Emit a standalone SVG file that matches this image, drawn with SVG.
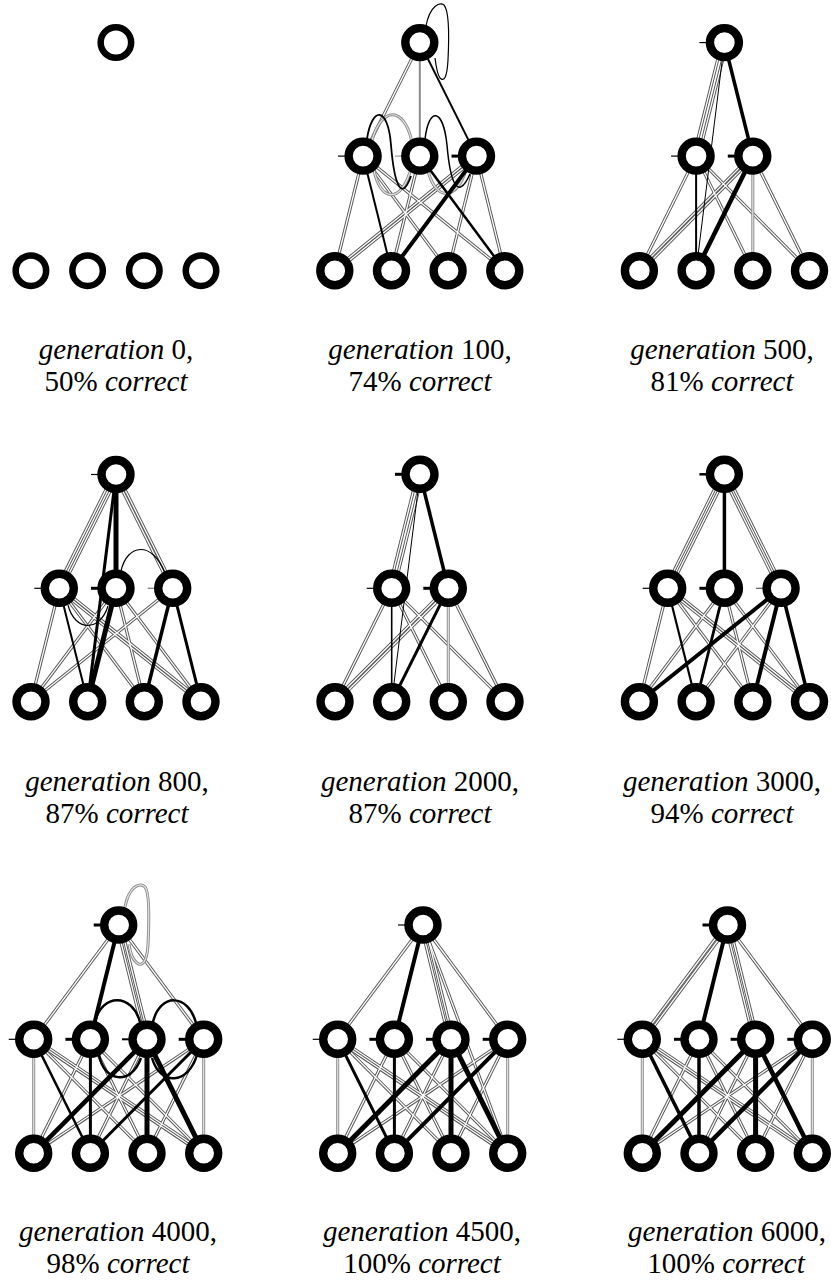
<svg xmlns="http://www.w3.org/2000/svg" xmlns:xlink="http://www.w3.org/1999/xlink" width="831" height="1283" viewBox="0 0 831 1283">
<style>
  .nd { fill:#fff; stroke:#000; stroke-width:8.4; }
  .nd0 { fill:#fff; stroke:#000; stroke-width:6.5; }
  .dblO { fill:none; stroke:#555; stroke-width:3.2; }
  .dblI { fill:none; stroke:#fff; stroke-width:1.3; }
  .paleO { fill:none; stroke:#8a8a8a; stroke-width:3; }
  .paleI { fill:none; stroke:#e2e2e2; stroke-width:1.2; }
  .pos { fill:none; stroke:#000; }
  .bias { stroke:#000; }
  .lbl { font-size:29px; fill:#000; text-anchor:middle; }
  .it { font-style:italic; }
</style>
<defs>
  <!-- negative-weight connections, stroked twice to give a hollow line -->
  <g id="neg100">
    <line x1="419.8" y1="42.6" x2="363.1" y2="156.1"/>
    <line x1="363.1" y1="156.1" x2="334.8" y2="270.7"/>
    <line x1="363.1" y1="156.1" x2="448.1" y2="270.7"/>
    <line x1="363.1" y1="156.1" x2="504.8" y2="270.7"/>
    <line x1="419.8" y1="156.1" x2="391.5" y2="270.7"/>
    <line x1="474.5" y1="156.1" x2="332.8" y2="270.7"/>
    <line x1="478.5" y1="156.1" x2="336.8" y2="270.7"/>
    <line x1="476.5" y1="156.1" x2="448.1" y2="270.7"/>
    <line x1="476.5" y1="156.1" x2="504.8" y2="270.7"/>
  </g>
  <g id="pale100">
    <path d="M 372 140 C 382 106, 404 106, 412 142"/>
    <path d="M 374 170 C 380 201, 400 204, 410 172"/>
    <path d="M 428 171 C 436 201, 456 201, 466 170"/>
  </g>
  <g id="neg500">
    <line x1="721.9" y1="42.6" x2="693.6" y2="156.1"/>
    <line x1="726.9" y1="42.6" x2="698.6" y2="156.1"/>
    <line x1="696.1" y1="156.1" x2="639.4" y2="270.7"/>
    <line x1="696.1" y1="156.1" x2="752.8" y2="270.7"/>
    <line x1="696.1" y1="156.1" x2="809.5" y2="270.7"/>
    <line x1="750.8" y1="156.1" x2="637.4" y2="270.7"/>
    <line x1="754.8" y1="156.1" x2="641.4" y2="270.7"/>
    <line x1="752.8" y1="156.1" x2="809.5" y2="270.7"/>
  </g>
  <g id="pale500">
    <line x1="752.8" y1="156.1" x2="752.8" y2="270.7"/>
  </g>
  <g id="neg800">
    <line x1="113.5" y1="474.5" x2="56.8" y2="588.3"/>
    <line x1="118.5" y1="474.5" x2="61.8" y2="588.3"/>
    <line x1="114.5" y1="474.5" x2="171.2" y2="588.3"/>
    <line x1="117.5" y1="474.5" x2="174.2" y2="588.3"/>
    <line x1="59.3" y1="588.3" x2="31" y2="701.7"/>
    <line x1="59.3" y1="588.3" x2="144.3" y2="701.7"/>
    <line x1="57.3" y1="588.3" x2="199" y2="701.7"/>
    <line x1="61.3" y1="588.3" x2="203" y2="701.7"/>
    <line x1="116" y1="588.3" x2="31" y2="701.7"/>
    <line x1="116" y1="588.3" x2="144.3" y2="701.7"/>
    <line x1="116" y1="588.3" x2="201" y2="701.7"/>
    <line x1="172.7" y1="588.3" x2="31" y2="701.7"/>
  </g>
  <g id="neg2000">
    <line x1="417.5" y1="474.3" x2="389.2" y2="588.3"/>
    <line x1="422.5" y1="474.3" x2="394.2" y2="588.3"/>
    <line x1="391.7" y1="588.3" x2="335" y2="701.7"/>
    <line x1="391.7" y1="588.3" x2="448.3" y2="701.7"/>
    <line x1="391.7" y1="588.3" x2="505" y2="701.7"/>
    <line x1="446.3" y1="588.3" x2="333" y2="701.7"/>
    <line x1="450.3" y1="588.3" x2="337" y2="701.7"/>
    <line x1="448.3" y1="588.3" x2="505" y2="701.7"/>
  </g>
  <g id="pale2000">
    <line x1="448.3" y1="588.3" x2="448.3" y2="701.7"/>
  </g>
  <g id="neg3000">
    <line x1="722" y1="474.3" x2="665.3" y2="588.3"/>
    <line x1="726.8" y1="474.3" x2="670.1" y2="588.3"/>
    <line x1="722" y1="474.3" x2="778.7" y2="588.3"/>
    <line x1="726.8" y1="474.3" x2="783.5" y2="588.3"/>
    <line x1="667.7" y1="588.3" x2="639.4" y2="701.7"/>
    <line x1="667.7" y1="588.3" x2="752.8" y2="701.7"/>
    <line x1="665.7" y1="588.3" x2="807.5" y2="701.7"/>
    <line x1="669.7" y1="588.3" x2="811.5" y2="701.7"/>
    <line x1="724.4" y1="588.3" x2="639.4" y2="701.7"/>
    <line x1="724.4" y1="588.3" x2="752.8" y2="701.7"/>
    <line x1="724.4" y1="588.3" x2="809.5" y2="701.7"/>
    <line x1="781.1" y1="588.3" x2="696.1" y2="701.7"/>
  </g>
  <g id="neg4000">
    <line x1="118.7" y1="925" x2="33.7" y2="1039.3"/>
    <line x1="116.7" y1="925" x2="145" y2="1039.3"/>
    <line x1="120.7" y1="925" x2="149" y2="1039.3"/>
    <line x1="118.7" y1="925" x2="203.7" y2="1039.3"/>
    <line x1="33.7" y1="1039.3" x2="147" y2="1153.3"/>
    <line x1="31.7" y1="1039.3" x2="201.7" y2="1153.3"/>
    <line x1="35.7" y1="1039.3" x2="205.7" y2="1153.3"/>
    <line x1="90.4" y1="1039.3" x2="33.7" y2="1153.3"/>
    <line x1="90.4" y1="1039.3" x2="147" y2="1153.3"/>
    <line x1="90.4" y1="1039.3" x2="203.7" y2="1153.3"/>
    <line x1="147" y1="1039.3" x2="90.4" y2="1153.3"/>
    <line x1="203.7" y1="1039.3" x2="33.7" y2="1153.3"/>
    <line x1="203.7" y1="1039.3" x2="147" y2="1153.3"/>
  </g>
  <g id="pale4000">
    <line x1="33.7" y1="1039.3" x2="33.7" y2="1153.3"/>
    <line x1="203.7" y1="1039.3" x2="203.7" y2="1153.3"/>
    <path d="M 125 907 C 129 886, 140 882, 145 887 C 150 893, 149 925, 148 945 C 147 962, 142 967, 137 963 C 132 959, 130 952, 129 944"/>
  </g>
  <g id="neg4500">
    <line x1="423" y1="925" x2="337.7" y2="1039.3"/>
    <line x1="421" y1="925" x2="449" y2="1039.3"/>
    <line x1="425" y1="925" x2="453" y2="1039.3"/>
    <line x1="423" y1="925" x2="507.7" y2="1039.3"/>
    <line x1="423" y1="925" x2="507.7" y2="1153.3"/>
    <line x1="337.7" y1="1039.3" x2="451" y2="1153.3"/>
    <line x1="335.7" y1="1039.3" x2="505.7" y2="1153.3"/>
    <line x1="339.7" y1="1039.3" x2="509.7" y2="1153.3"/>
    <line x1="394.4" y1="1039.3" x2="337.7" y2="1153.3"/>
    <line x1="394.4" y1="1039.3" x2="451" y2="1153.3"/>
    <line x1="394.4" y1="1039.3" x2="507.7" y2="1153.3"/>
    <line x1="451" y1="1039.3" x2="394.4" y2="1153.3"/>
    <line x1="507.7" y1="1039.3" x2="337.7" y2="1153.3"/>
    <line x1="507.7" y1="1039.3" x2="451" y2="1153.3"/>
  </g>
  <g id="pale4500">
    <line x1="337.7" y1="1039.3" x2="337.7" y2="1153.3"/>
    <line x1="507.7" y1="1039.3" x2="507.7" y2="1153.3"/>
  </g>
  <g id="neg6000">
    <line x1="725.5" y1="925" x2="640.3" y2="1039.3"/>
    <line x1="729.5" y1="925" x2="644.3" y2="1039.3"/>
    <line x1="725.5" y1="925" x2="753.6" y2="1039.3"/>
    <line x1="729.5" y1="925" x2="757.6" y2="1039.3"/>
    <line x1="727.5" y1="925" x2="812.3" y2="1039.3"/>
    <line x1="642.3" y1="1039.3" x2="755.6" y2="1153.3"/>
    <line x1="640.3" y1="1039.3" x2="810.3" y2="1153.3"/>
    <line x1="644.3" y1="1039.3" x2="814.3" y2="1153.3"/>
    <line x1="699" y1="1039.3" x2="642.3" y2="1153.3"/>
    <line x1="699" y1="1039.3" x2="755.6" y2="1153.3"/>
    <line x1="699" y1="1039.3" x2="812.3" y2="1153.3"/>
    <line x1="755.6" y1="1039.3" x2="699" y2="1153.3"/>
    <line x1="812.3" y1="1039.3" x2="642.3" y2="1153.3"/>
    <line x1="812.3" y1="1039.3" x2="755.6" y2="1153.3"/>
  </g>
  <g id="pale6000">
    <line x1="642.3" y1="1039.3" x2="642.3" y2="1153.3"/>
    <line x1="812.3" y1="1039.3" x2="812.3" y2="1153.3"/>
  </g>
</defs>

<rect width="831" height="1283" fill="#fff"/>

<g id="connectors">
  <!-- hollow (negative) links -->
  <use xlink:href="#neg100" class="dblO"/><use xlink:href="#neg100" class="dblI"/>
  <use xlink:href="#pale100" class="paleO"/><use xlink:href="#pale100" class="paleI"/>
  <use xlink:href="#neg500" class="dblO"/><use xlink:href="#neg500" class="dblI"/>
  <use xlink:href="#pale500" class="paleO"/><use xlink:href="#pale500" class="paleI"/>
  <use xlink:href="#neg800" class="dblO"/><use xlink:href="#neg800" class="dblI"/>
  <use xlink:href="#neg2000" class="dblO"/><use xlink:href="#neg2000" class="dblI"/>
  <use xlink:href="#pale2000" class="paleO"/><use xlink:href="#pale2000" class="paleI"/>
  <use xlink:href="#neg3000" class="dblO"/><use xlink:href="#neg3000" class="dblI"/>
  <use xlink:href="#neg4000" class="dblO"/><use xlink:href="#neg4000" class="dblI"/>
  <use xlink:href="#pale4000" class="paleO"/><use xlink:href="#pale4000" class="paleI"/>
  <use xlink:href="#neg4500" class="dblO"/><use xlink:href="#neg4500" class="dblI"/>
  <use xlink:href="#pale4500" class="paleO"/><use xlink:href="#pale4500" class="paleI"/>
  <use xlink:href="#neg6000" class="dblO"/><use xlink:href="#neg6000" class="dblI"/>
  <use xlink:href="#pale6000" class="paleO"/><use xlink:href="#pale6000" class="paleI"/>

  <!-- generation 100 -->
  <g class="pos">
    <line x1="419.8" y1="42.6" x2="419.8" y2="156.1" stroke="#8a8a8a" stroke-width="2"/>
    <line x1="419.8" y1="42.6" x2="476.5" y2="156.1" stroke-width="2"/>
    <line x1="363.1" y1="156.1" x2="391.5" y2="270.7" stroke-width="2"/>
    <line x1="419.8" y1="156.1" x2="504.8" y2="270.7" stroke-width="2.5"/>
    <line x1="476.5" y1="156.1" x2="391.5" y2="270.7" stroke-width="4"/>
    <path d="M 367 139 C 372 106, 388 106, 391 145 C 394 182, 401 204, 411 176" stroke-width="1.8"/>
    <path d="M 425 139 C 429 106, 443 108, 447 145 C 450 180, 457 203, 470 174" stroke-width="1.5"/>
    <path d="M 426 26 C 430 5, 440 2, 444 5 C 450 12, 449 40, 448 60 C 447 78, 444 82, 440 78 C 437 74, 436 66, 435 58" stroke-width="1.2"/>
  </g>
  <line class="bias" x1="338" y1="156.1" x2="348" y2="156.1" stroke-width="1.2"/>
  <line x1="395" y1="156.1" x2="405" y2="156.1" stroke="#999" stroke-width="1.2"/>
  <line class="bias" x1="451.5" y1="156.1" x2="461.5" y2="156.1" stroke-width="3"/>

  <!-- generation 500 -->
  <g class="pos">
    <line x1="724.4" y1="42.6" x2="752.8" y2="156.1" stroke-width="3.5"/>
    <line x1="724.4" y1="42.6" x2="696.1" y2="270.7" stroke-width="1"/>
    <line x1="696.1" y1="156.1" x2="696.1" y2="270.7" stroke-width="2"/>
    <line x1="752.8" y1="156.1" x2="696.1" y2="270.7" stroke-width="4.5"/>
  </g>
  <line class="bias" x1="699.4" y1="42.6" x2="709.4" y2="42.6" stroke-width="1.2"/>
  <line class="bias" x1="671.1" y1="156.1" x2="681.1" y2="156.1" stroke-width="1.2"/>
  <line class="bias" x1="727.8" y1="156.1" x2="737.8" y2="156.1" stroke-width="3"/>

  <!-- generation 800 -->
  <g class="pos">
    <line x1="116" y1="474.5" x2="116" y2="588.3" stroke-width="5"/>
    <line x1="116" y1="474.5" x2="87.7" y2="701.7" stroke-width="3"/>
    <line x1="59.3" y1="588.3" x2="87.7" y2="701.7" stroke-width="2"/>
    <line x1="116" y1="588.3" x2="87.7" y2="701.7" stroke-width="5"/>
    <line x1="172.7" y1="588.3" x2="144.3" y2="701.7" stroke-width="3.5"/>
    <line x1="172.7" y1="588.3" x2="201" y2="701.7" stroke-width="3"/>
    <path d="M 121 571 C 127 544, 152 540, 165 573" stroke-width="1.2"/>
    <path d="M 68 605 C 75 632, 100 632, 108 606" stroke-width="1.2"/>
  </g>
  <line class="bias" x1="91" y1="474.5" x2="101" y2="474.5" stroke-width="1.2"/>
  <line class="bias" x1="34.3" y1="588.3" x2="44.3" y2="588.3" stroke-width="1.2"/>
  <line class="bias" x1="91" y1="588.3" x2="101" y2="588.3" stroke-width="3"/>
  <line x1="147.7" y1="588.3" x2="157.7" y2="588.3" stroke="#777" stroke-width="1.2"/>

  <!-- generation 2000 -->
  <g class="pos">
    <line x1="420" y1="474.3" x2="448.3" y2="588.3" stroke-width="3.5"/>
    <line x1="420" y1="474.3" x2="391.7" y2="701.7" stroke-width="1"/>
    <line x1="391.7" y1="588.3" x2="391.7" y2="701.7" stroke-width="1.6"/>
    <line x1="448.3" y1="588.3" x2="391.7" y2="701.7" stroke-width="3"/>
  </g>
  <line class="bias" x1="395" y1="474.3" x2="405" y2="474.3" stroke-width="3"/>
  <line class="bias" x1="366.7" y1="588.3" x2="376.7" y2="588.3" stroke-width="1.2"/>
  <line class="bias" x1="423.3" y1="588.3" x2="433.3" y2="588.3" stroke-width="3"/>

  <!-- generation 3000 -->
  <g class="pos">
    <line x1="724.4" y1="474.3" x2="724.4" y2="588.3" stroke-width="3.5"/>
    <line x1="667.7" y1="588.3" x2="696.1" y2="701.7" stroke-width="2.2"/>
    <line x1="724.4" y1="588.3" x2="696.1" y2="701.7" stroke-width="2.8"/>
    <line x1="781.1" y1="588.3" x2="639.4" y2="701.7" stroke-width="4"/>
    <line x1="781.1" y1="588.3" x2="752.8" y2="701.7" stroke-width="4"/>
    <line x1="781.1" y1="588.3" x2="809.5" y2="701.7" stroke-width="3.5"/>
  </g>
  <line class="bias" x1="699.4" y1="474.3" x2="709.4" y2="474.3" stroke-width="2.5"/>
  <line class="bias" x1="642.7" y1="588.3" x2="652.7" y2="588.3" stroke-width="1.2"/>
  <line class="bias" x1="699.4" y1="588.3" x2="709.4" y2="588.3" stroke-width="3"/>
  <line x1="756.1" y1="588.3" x2="766.1" y2="588.3" stroke="#555" stroke-width="1.2"/>

  <!-- generation 4000 -->
  <g class="pos">
    <line x1="118.7" y1="925" x2="90.4" y2="1039.3" stroke-width="4"/>
    <line x1="33.7" y1="1039.3" x2="90.4" y2="1153.3" stroke-width="2.5"/>
    <line x1="90.4" y1="1039.3" x2="90.4" y2="1153.3" stroke-width="3"/>
    <line x1="147" y1="1039.3" x2="33.7" y2="1153.3" stroke-width="4.5"/>
    <line x1="147" y1="1039.3" x2="147" y2="1153.3" stroke-width="5"/>
    <line x1="147" y1="1039.3" x2="203.7" y2="1153.3" stroke-width="5"/>
    <line x1="203.7" y1="1039.3" x2="90.4" y2="1153.3" stroke-width="3"/>
    <path d="M 95 1022 C 102 993, 132 993, 140 1022" stroke-width="2.5"/>
    <path d="M 153 1022 C 160 993, 188 993, 196 1023" stroke-width="2.5"/>
    <path d="M 99 1055 C 104 1082, 131 1086, 141 1058" stroke-width="2.5"/>
    <path d="M 152 1058 C 160 1086, 188 1085, 197 1055" stroke-width="2.5"/>
  </g>
  <line class="bias" x1="93.7" y1="925" x2="103.7" y2="925" stroke-width="3"/>
  <line class="bias" x1="8.7" y1="1039.3" x2="18.7" y2="1039.3" stroke-width="1.2"/>
  <line class="bias" x1="65.4" y1="1039.3" x2="75.4" y2="1039.3" stroke-width="3"/>
  <line class="bias" x1="122" y1="1039.3" x2="132" y2="1039.3" stroke-width="2"/>
  <line class="bias" x1="178.7" y1="1039.3" x2="188.7" y2="1039.3" stroke-width="3"/>

  <!-- generation 4500 -->
  <g class="pos">
    <line x1="423" y1="925" x2="394.4" y2="1039.3" stroke-width="4"/>
    <line x1="337.7" y1="1039.3" x2="394.4" y2="1153.3" stroke-width="3"/>
    <line x1="394.4" y1="1039.3" x2="394.4" y2="1153.3" stroke-width="3"/>
    <line x1="451" y1="1039.3" x2="337.7" y2="1153.3" stroke-width="5"/>
    <line x1="451" y1="1039.3" x2="451" y2="1153.3" stroke-width="5"/>
    <line x1="451" y1="1039.3" x2="507.7" y2="1153.3" stroke-width="5"/>
    <line x1="507.7" y1="1039.3" x2="394.4" y2="1153.3" stroke-width="4"/>
  </g>
  <line class="bias" x1="398" y1="925" x2="408" y2="925" stroke-width="1.2"/>
  <line class="bias" x1="312.7" y1="1039.3" x2="322.7" y2="1039.3" stroke-width="1.2"/>
  <line class="bias" x1="369.4" y1="1039.3" x2="379.4" y2="1039.3" stroke-width="3"/>
  <line class="bias" x1="426" y1="1039.3" x2="436" y2="1039.3" stroke-width="3"/>
  <line class="bias" x1="482.7" y1="1039.3" x2="492.7" y2="1039.3" stroke-width="3"/>

  <!-- generation 6000 -->
  <g class="pos">
    <line x1="727.5" y1="925" x2="699" y2="1039.3" stroke-width="4"/>
    <line x1="642.3" y1="1039.3" x2="699" y2="1153.3" stroke-width="3.5"/>
    <line x1="699" y1="1039.3" x2="699" y2="1153.3" stroke-width="3.5"/>
    <line x1="755.6" y1="1039.3" x2="642.3" y2="1153.3" stroke-width="5"/>
    <line x1="755.6" y1="1039.3" x2="755.6" y2="1153.3" stroke-width="5"/>
    <line x1="755.6" y1="1039.3" x2="812.3" y2="1153.3" stroke-width="4.5"/>
    <line x1="812.3" y1="1039.3" x2="699" y2="1153.3" stroke-width="4.5"/>
  </g>
  <line class="bias" x1="702.5" y1="925" x2="712.5" y2="925" stroke-width="3"/>
  <line class="bias" x1="617.3" y1="1039.3" x2="627.3" y2="1039.3" stroke-width="1.2"/>
  <line class="bias" x1="674" y1="1039.3" x2="684" y2="1039.3" stroke-width="3"/>
  <line class="bias" x1="730.6" y1="1039.3" x2="740.6" y2="1039.3" stroke-width="3"/>
  <line class="bias" x1="787.3" y1="1039.3" x2="797.3" y2="1039.3" stroke-width="3"/>
</g>

<!-- generation 0 -->
<g id="g0-out"><circle class="nd0" cx="115.9" cy="42.6" r="15.25"/></g>
<g id="g0-in1"><circle class="nd0" cx="30.9" cy="270.7" r="15.25"/></g>
<g id="g0-in2"><circle class="nd0" cx="87.6" cy="270.7" r="15.25"/></g>
<g id="g0-in3"><circle class="nd0" cx="144.3" cy="270.7" r="15.25"/></g>
<g id="g0-in4"><circle class="nd0" cx="201" cy="270.7" r="15.25"/></g>

<!-- generation 100 -->
<g id="g100-out"><circle class="nd" cx="419.8" cy="42.6" r="14.5"/></g>
<g id="g100-hid1"><circle class="nd" cx="363.1" cy="156.1" r="14.5"/></g>
<g id="g100-hid2"><circle class="nd" cx="419.8" cy="156.1" r="14.5"/></g>
<g id="g100-hid3"><circle class="nd" cx="476.5" cy="156.1" r="14.5"/></g>
<g id="g100-in1"><circle class="nd" cx="334.8" cy="270.7" r="14.5"/></g>
<g id="g100-in2"><circle class="nd" cx="391.5" cy="270.7" r="14.5"/></g>
<g id="g100-in3"><circle class="nd" cx="448.1" cy="270.7" r="14.5"/></g>
<g id="g100-in4"><circle class="nd" cx="504.8" cy="270.7" r="14.5"/></g>

<!-- generation 500 -->
<g id="g500-out"><circle class="nd" cx="724.4" cy="42.6" r="14.5"/></g>
<g id="g500-hid1"><circle class="nd" cx="696.1" cy="156.1" r="14.5"/></g>
<g id="g500-hid2"><circle class="nd" cx="752.8" cy="156.1" r="14.5"/></g>
<g id="g500-in1"><circle class="nd" cx="639.4" cy="270.7" r="14.5"/></g>
<g id="g500-in2"><circle class="nd" cx="696.1" cy="270.7" r="14.5"/></g>
<g id="g500-in3"><circle class="nd" cx="752.8" cy="270.7" r="14.5"/></g>
<g id="g500-in4"><circle class="nd" cx="809.5" cy="270.7" r="14.5"/></g>

<!-- generation 800 -->
<g id="g800-out"><circle class="nd" cx="116" cy="474.5" r="14.5"/></g>
<g id="g800-hid1"><circle class="nd" cx="59.3" cy="588.3" r="14.5"/></g>
<g id="g800-hid2"><circle class="nd" cx="116" cy="588.3" r="14.5"/></g>
<g id="g800-hid3"><circle class="nd" cx="172.7" cy="588.3" r="14.5"/></g>
<g id="g800-in1"><circle class="nd" cx="31" cy="701.7" r="14.5"/></g>
<g id="g800-in2"><circle class="nd" cx="87.7" cy="701.7" r="14.5"/></g>
<g id="g800-in3"><circle class="nd" cx="144.3" cy="701.7" r="14.5"/></g>
<g id="g800-in4"><circle class="nd" cx="201" cy="701.7" r="14.5"/></g>

<!-- generation 2000 -->
<g id="g2000-out"><circle class="nd" cx="420" cy="474.3" r="14.5"/></g>
<g id="g2000-hid1"><circle class="nd" cx="391.7" cy="588.3" r="14.5"/></g>
<g id="g2000-hid2"><circle class="nd" cx="448.3" cy="588.3" r="14.5"/></g>
<g id="g2000-in1"><circle class="nd" cx="335" cy="701.7" r="14.5"/></g>
<g id="g2000-in2"><circle class="nd" cx="391.7" cy="701.7" r="14.5"/></g>
<g id="g2000-in3"><circle class="nd" cx="448.3" cy="701.7" r="14.5"/></g>
<g id="g2000-in4"><circle class="nd" cx="505" cy="701.7" r="14.5"/></g>

<!-- generation 3000 -->
<g id="g3000-out"><circle class="nd" cx="724.4" cy="474.3" r="14.5"/></g>
<g id="g3000-hid1"><circle class="nd" cx="667.7" cy="588.3" r="14.5"/></g>
<g id="g3000-hid2"><circle class="nd" cx="724.4" cy="588.3" r="14.5"/></g>
<g id="g3000-hid3"><circle class="nd" cx="781.1" cy="588.3" r="14.5"/></g>
<g id="g3000-in1"><circle class="nd" cx="639.4" cy="701.7" r="14.5"/></g>
<g id="g3000-in2"><circle class="nd" cx="696.1" cy="701.7" r="14.5"/></g>
<g id="g3000-in3"><circle class="nd" cx="752.8" cy="701.7" r="14.5"/></g>
<g id="g3000-in4"><circle class="nd" cx="809.5" cy="701.7" r="14.5"/></g>

<!-- generation 4000 -->
<g id="g4000-out"><circle class="nd" cx="118.7" cy="925" r="14.5"/></g>
<g id="g4000-hid1"><circle class="nd" cx="33.7" cy="1039.3" r="14.5"/></g>
<g id="g4000-hid2"><circle class="nd" cx="90.4" cy="1039.3" r="14.5"/></g>
<g id="g4000-hid3"><circle class="nd" cx="147" cy="1039.3" r="14.5"/></g>
<g id="g4000-hid4"><circle class="nd" cx="203.7" cy="1039.3" r="14.5"/></g>
<g id="g4000-in1"><circle class="nd" cx="33.7" cy="1153.3" r="14.5"/></g>
<g id="g4000-in2"><circle class="nd" cx="90.4" cy="1153.3" r="14.5"/></g>
<g id="g4000-in3"><circle class="nd" cx="147" cy="1153.3" r="14.5"/></g>
<g id="g4000-in4"><circle class="nd" cx="203.7" cy="1153.3" r="14.5"/></g>

<!-- generation 4500 -->
<g id="g4500-out"><circle class="nd" cx="423" cy="925" r="14.5"/></g>
<g id="g4500-hid1"><circle class="nd" cx="337.7" cy="1039.3" r="14.5"/></g>
<g id="g4500-hid2"><circle class="nd" cx="394.4" cy="1039.3" r="14.5"/></g>
<g id="g4500-hid3"><circle class="nd" cx="451" cy="1039.3" r="14.5"/></g>
<g id="g4500-hid4"><circle class="nd" cx="507.7" cy="1039.3" r="14.5"/></g>
<g id="g4500-in1"><circle class="nd" cx="337.7" cy="1153.3" r="14.5"/></g>
<g id="g4500-in2"><circle class="nd" cx="394.4" cy="1153.3" r="14.5"/></g>
<g id="g4500-in3"><circle class="nd" cx="451" cy="1153.3" r="14.5"/></g>
<g id="g4500-in4"><circle class="nd" cx="507.7" cy="1153.3" r="14.5"/></g>

<!-- generation 6000 -->
<g id="g6000-out"><circle class="nd" cx="727.5" cy="925" r="14.5"/></g>
<g id="g6000-hid1"><circle class="nd" cx="642.3" cy="1039.3" r="14.5"/></g>
<g id="g6000-hid2"><circle class="nd" cx="699" cy="1039.3" r="14.5"/></g>
<g id="g6000-hid3"><circle class="nd" cx="755.6" cy="1039.3" r="14.5"/></g>
<g id="g6000-hid4"><circle class="nd" cx="812.3" cy="1039.3" r="14.5"/></g>
<g id="g6000-in1"><circle class="nd" cx="642.3" cy="1153.3" r="14.5"/></g>
<g id="g6000-in2"><circle class="nd" cx="699" cy="1153.3" r="14.5"/></g>
<g id="g6000-in3"><circle class="nd" cx="755.6" cy="1153.3" r="14.5"/></g>
<g id="g6000-in4"><circle class="nd" cx="812.3" cy="1153.3" r="14.5"/></g>

<!-- captions -->
<g id="captions" font-family="'Liberation Serif', 'Times New Roman', Times, 'DejaVu Serif', serif">
  <text class="lbl" x="116" y="359"><tspan class="it">generation</tspan> 0,</text>
  <text class="lbl" x="116" y="391">50% <tspan class="it">correct</tspan></text>
  <text class="lbl" x="420" y="359"><tspan class="it">generation</tspan> 100,</text>
  <text class="lbl" x="420" y="391">74% <tspan class="it">correct</tspan></text>
  <text class="lbl" x="722" y="359"><tspan class="it">generation</tspan> 500,</text>
  <text class="lbl" x="722" y="391">81% <tspan class="it">correct</tspan></text>
  <text class="lbl" x="117" y="791"><tspan class="it">generation</tspan> 800,</text>
  <text class="lbl" x="117" y="823">87% <tspan class="it">correct</tspan></text>
  <text class="lbl" x="420" y="791"><tspan class="it">generation</tspan> 2000,</text>
  <text class="lbl" x="420" y="823">87% <tspan class="it">correct</tspan></text>
  <text class="lbl" x="722" y="791"><tspan class="it">generation</tspan> 3000,</text>
  <text class="lbl" x="722" y="823">94% <tspan class="it">correct</tspan></text>
  <text class="lbl" x="118" y="1241"><tspan class="it">generation</tspan> 4000,</text>
  <text class="lbl" x="118" y="1273">98% <tspan class="it">correct</tspan></text>
  <text class="lbl" x="422" y="1241"><tspan class="it">generation</tspan> 4500,</text>
  <text class="lbl" x="422" y="1273">100% <tspan class="it">correct</tspan></text>
  <text class="lbl" x="727" y="1241"><tspan class="it">generation</tspan> 6000,</text>
  <text class="lbl" x="726" y="1273">100% <tspan class="it">correct</tspan></text>
</g>
</svg>
